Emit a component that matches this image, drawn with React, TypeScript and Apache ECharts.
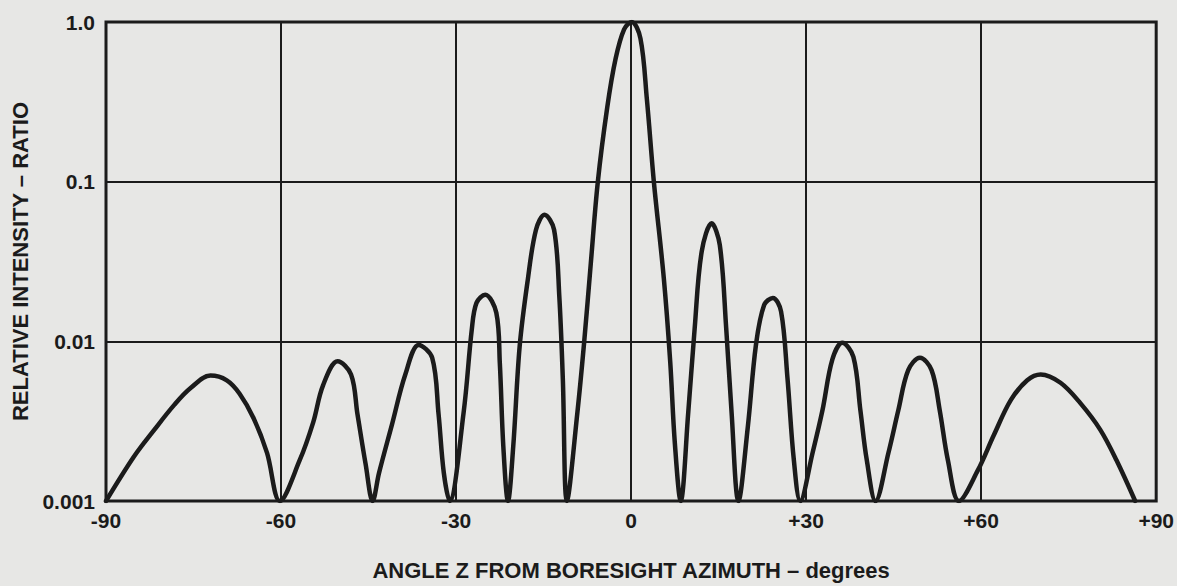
import React, { useEffect, useRef } from "react";
import * as echarts from "echarts";

// Angle from boresight (degrees) and relative intensity (ratio)
const angles = [
  -90, -85.2, -81.7, -78.3, -75.5, -72.1, -69.3, -67.1, -64.7, -62.4, -60.2,
  -56.8, -54.5, -52.8, -50.3, -48.0, -46.9, -45.5, -44.3,
  -43.2, -41.0, -38.7, -36.4, -34.1, -33.0, -32.1, -31.1,
  -28.7, -27.3, -26.5, -25.0, -23.1, -22.5, -21.9, -21.1,
  -20.2, -19.1, -17.7, -16.3, -14.85, -13.2, -12.3, -11.7, -11.0,
  -9.2, -8.0, -6.9, -5.7, -4.1, -2.65, -1.2, 0.1, 1.6, 2.7, 3.9, 5.6, 6.7, 7.5, 8.5,
  9.8, 10.9, 12.1, 13.8, 15.2, 16.3, 17.2, 18.4,
  20.0, 21.4, 22.8, 24.3, 25.7, 26.8, 27.9, 29.0,
  31.1, 32.8, 34.5, 36.2, 38.1, 39.3, 40.4, 41.9,
  44.1, 45.8, 47.5, 49.5, 51.5, 52.9, 54.3, 56.2,
  59.4, 62.2, 65.1, 67.9, 70.2, 73.6, 77.0, 80.4, 83.2, 86.4,
];
const intensities = [
  0.001, 0.0019, 0.0028, 0.004, 0.0051, 0.0061, 0.0057, 0.0047, 0.0033, 0.002, 0.001,
  0.0018, 0.0031, 0.0053, 0.0075, 0.0062, 0.0035, 0.0017, 0.001,
  0.0015, 0.003, 0.0062, 0.0095, 0.0079, 0.0035, 0.0015, 0.001,
  0.0036, 0.0119, 0.0174, 0.0196, 0.0151, 0.0073, 0.0022, 0.001,
  0.0022, 0.0093, 0.0244, 0.05, 0.062, 0.05, 0.019, 0.0058, 0.001,
  0.0036, 0.0103, 0.031, 0.1, 0.29, 0.59, 0.9, 1.0, 0.79, 0.33, 0.1, 0.025, 0.0075, 0.0023, 0.001,
  0.0036, 0.0121, 0.0365, 0.0548, 0.0402, 0.0121, 0.0037, 0.001,
  0.0029, 0.0095, 0.0169, 0.0187, 0.0154, 0.0059, 0.0018, 0.001,
  0.002, 0.0037, 0.0077, 0.0098, 0.008, 0.0037, 0.0018, 0.001,
  0.002, 0.0037, 0.0066, 0.0079, 0.0066, 0.0037, 0.0018, 0.001,
  0.00155, 0.0026, 0.0043, 0.0057, 0.0062, 0.0055, 0.0041, 0.0028, 0.0018, 0.001,
];

const xTickValues = [-90, -60, -30, 0, 30, 60, 90];
const xTickLabels = ["-90", "-60", "-30", "0", "+30", "+60", "+90"];
const yTickValues = [0.001, 0.01, 0.1, 1];
const yTickLabels = ["0.001", "0.01", "0.1", "1.0"];
const xTitle = "ANGLE Z FROM BORESIGHT AZIMUTH – degrees";
const yTitle = "RELATIVE INTENSITY – RATIO";

const INK = "#1b1b1b";
const FONT = "Liberation Sans, Arial, sans-serif";

export default function App() {
  const ref = useRef<HTMLDivElement>(null);

  useEffect(() => {
    document.body.style.margin = "0";
    if (!ref.current) return;
    const chart = echarts.init(ref.current, undefined, { renderer: "svg" });
    const data = angles.map((a, i) => [a, intensities[i]]);
    chart.setOption({
      animation: false,
      backgroundColor: "#e7e7e5",
      grid: {
        left: 106,
        right: 13,
        top: 22,
        bottom: 84,
        show: true,
        borderWidth: 3,
        borderColor: INK,
        backgroundColor: "transparent",
      },
      xAxis: {
        type: "value",
        min: -90,
        max: 90,
        interval: 30,
        name: xTitle,
        nameLocation: "middle",
        nameGap: 58,
        nameTextStyle: { color: INK, fontFamily: FONT, fontWeight: "bold", fontSize: 22 },
        axisLine: { show: false },
        axisTick: { show: false },
        axisLabel: {
          margin: 9,
          color: INK,
          fontFamily: FONT,
          fontWeight: "bold",
          fontSize: 21,
          formatter: (v: number) => {
            const i = xTickValues.indexOf(Math.round(v));
            return i >= 0 ? xTickLabels[i] : "";
          },
        },
        splitLine: { show: true, lineStyle: { color: INK, width: 2 } },
      },
      yAxis: {
        type: "log",
        logBase: 10,
        min: 0.001,
        max: 1,
        name: yTitle,
        nameLocation: "middle",
        nameGap: 75,
        nameRotate: 90,
        nameTextStyle: { color: INK, fontFamily: FONT, fontWeight: "bold", fontSize: 22 },
        axisLine: { show: false },
        axisTick: { show: false },
        minorTick: { show: false },
        minorSplitLine: { show: false },
        axisLabel: {
          margin: 11,
          color: INK,
          fontFamily: FONT,
          fontWeight: "bold",
          fontSize: 21,
          formatter: (v: number) => {
            const i = yTickValues.findIndex(
              (t) => Math.abs(Math.log10(t) - Math.log10(v)) < 1e-6
            );
            return i >= 0 ? yTickLabels[i] : "";
          },
        },
        splitLine: { show: true, lineStyle: { color: INK, width: 2 } },
      },
      series: [
        {
          type: "line",
          data,
          smooth: 0.35,
          showSymbol: false,
          symbol: "none",
          lineStyle: { color: INK, width: 4.5, join: "round", cap: "round" },
          clip: true,
          z: 5,
        },
      ],
    });
    return () => chart.dispose();
  }, []);

  return <div ref={ref} style={{ width: 1177, height: 586 }} />;
}
